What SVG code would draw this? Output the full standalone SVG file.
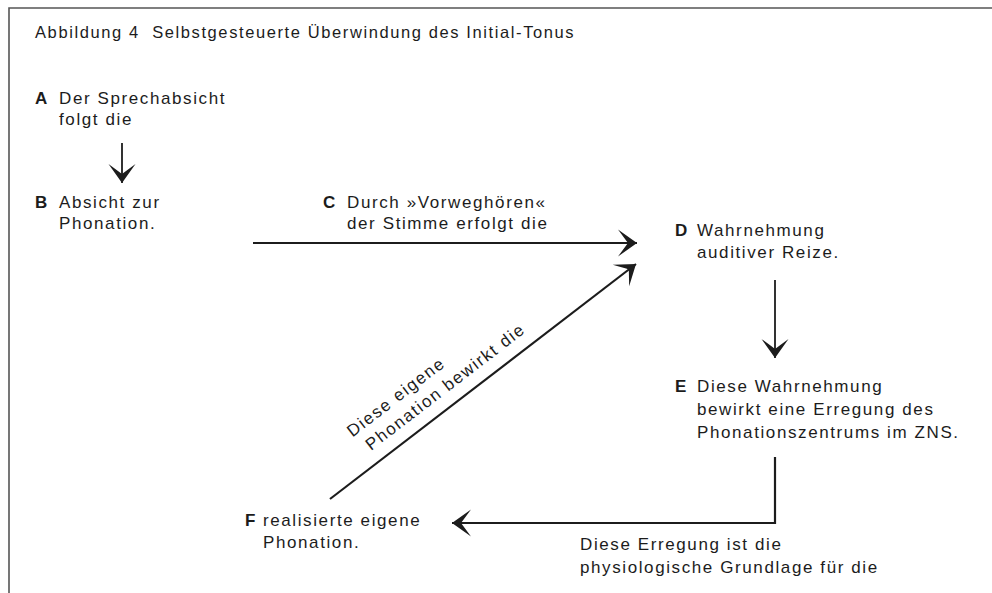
<svg xmlns="http://www.w3.org/2000/svg" width="992" height="593" viewBox="0 0 992 593">
<defs>
<style>
text{font-family:"Liberation Sans",Arial,Helvetica,sans-serif;font-size:17px;letter-spacing:1.6px;fill:#1c1c1c}
.b{font-weight:bold;letter-spacing:0}
.title{font-size:16.5px;letter-spacing:1.6px}
.ln{stroke:#1c1c1c;stroke-width:2.2;fill:none}
.thin{stroke-width:1.8}
.frame{stroke:#555;stroke-width:1.6;fill:none}
</style>
<marker id="ah" markerUnits="userSpaceOnUse" markerWidth="30" markerHeight="30" viewBox="-22 -15 24 30" refX="0" refY="0" orient="auto">
<path d="M0,0 L-19,-13.5 Q-12,-4 -9,0 Q-12,4 -19,13.5 Z" fill="#1c1c1c"/>
</marker>
</defs>
<rect width="992" height="593" fill="#fff"/>
<path class="frame" d="M9,593 V8 H992"/>
<text class="title" x="35" y="38" xml:space="preserve">Abbildung 4  Selbstgesteuerte Überwindung des Initial-Tonus</text>
<g id="nodeA">
<text x="35" y="104"><tspan class="b">A</tspan></text>
<text x="59" y="104">Der Sprechabsicht</text>
<text x="59" y="125">folgt die</text>
</g>
<g id="nodeB">
<text x="35" y="208"><tspan class="b">B</tspan></text>
<text x="59" y="208">Absicht zur</text>
<text x="59" y="229">Phonation.</text>
</g>
<g id="nodeD">
<text x="675" y="236"><tspan class="b">D</tspan></text>
<text x="697" y="236">Wahrnehmung</text>
<text x="697" y="258">auditiver Reize.</text>
</g>
<g id="nodeE">
<text x="675" y="392"><tspan class="b">E</tspan></text>
<text x="697" y="392">Diese Wahrnehmung</text>
<text x="697" y="415">bewirkt eine Erregung des</text>
<text x="697" y="438">Phonationszentrums im ZNS.</text>
</g>
<g id="nodeF">
<text x="245" y="526"><tspan class="b">F</tspan></text>
<text x="263" y="526">realisierte eigene</text>
<text x="263" y="548">Phonation.</text>
</g>
<g id="connectors">
<path class="ln thin" d="M122,143 V183" marker-end="url(#ah)"/>
<path class="ln" d="M253,243 H637" marker-end="url(#ah)"/>
<path class="ln" d="M330,499 L636,264" marker-end="url(#ah)"/>
<path class="ln thin" d="M775,280 V358" marker-end="url(#ah)"/>
<path class="ln" d="M775,457 V523 H452" marker-end="url(#ah)"/>
<g id="labelC">
<text x="323" y="208"><tspan class="b">C</tspan></text>
<text x="347" y="208">Durch »Vorweghören«</text>
<text x="347" y="229">der Stimme erfolgt die</text>
</g>
<g id="labelFD" transform="translate(371,451) rotate(-37.5)">
<text x="-6.5" y="-22">Diese eigene</text>
<text x="0" y="0">Phonation bewirkt die</text>
</g>
<g id="labelEF">
<text x="580" y="550">Diese Erregung ist die</text>
<text x="580" y="573">physiologische Grundlage für die</text>
</g>
</g>
</svg>
